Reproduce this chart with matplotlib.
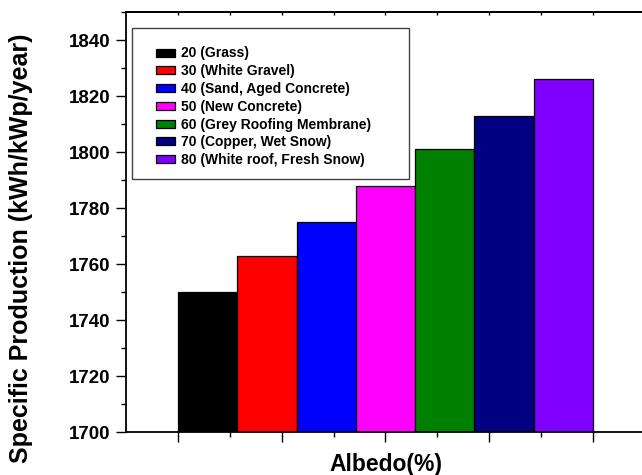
import matplotlib
matplotlib.use("Agg")
import matplotlib.pyplot as plt
from matplotlib.patches import Rectangle
from matplotlib.ticker import FixedLocator, MultipleLocator

plt.rcParams['font.family'] = ['Liberation Sans', 'DejaVu Sans']
plt.rcParams['font.weight'] = 'bold'

# albedo categories and the specific production
labels = ["20 (Grass)", "30 (White Gravel)", "40 (Sand, Aged Concrete)",
          "50 (New Concrete)", "60 (Grey Roofing Membrane)",
          "70 (Copper, Wet Snow)", "80 (White roof, Fresh Snow)"]
production = [1750, 1763, 1775, 1788, 1801, 1813, 1826]
colors = ["#000000", "#FF0000", "#0000FF", "#FF00FF", "#008000", "#000080", "#8000FF"]

W, H = 642, 475
fig = plt.figure(figsize=(W / 100, H / 100), dpi=100)
ax = fig.add_axes([126 / W, 1 - 432.3 / H, 519 / W, 420.3 / H])

positions = list(range(1, len(production) + 1))
for pos, val, col, lab in zip(positions, production, colors, labels):
    ax.bar(pos, val - 1700, bottom=1700, width=1.0, color=col,
           edgecolor="black", linewidth=0.9, label=lab)

ax.set_xlim(-0.377, 8.377)
ax.set_ylim(1700, 1850)

# ticks like the Origin export: no x labels, majors at the bar group edges
major_x = [0.5, 2.25, 4.0, 5.75, 7.5]
minor_x = [1.375, 3.125, 4.875, 6.625]
ax.xaxis.set_major_locator(FixedLocator(major_x))
ax.xaxis.set_minor_locator(FixedLocator(minor_x))
ax.yaxis.set_major_locator(MultipleLocator(20))
ax.yaxis.set_minor_locator(MultipleLocator(10))
ax.set_xticklabels([])
ax.tick_params(axis="both", which="major", direction="out", length=7, width=1.0,
               labelsize=13.5, pad=4)
ax.tick_params(axis="both", which="minor", direction="out", length=3.5, width=1.0)
for lab in ax.get_yticklabels():
    lab.set_fontweight("bold")

# small inward ticks on the top edge
top = ax.secondary_xaxis("top")
top.xaxis.set_major_locator(FixedLocator(major_x))
top.xaxis.set_minor_locator(FixedLocator(minor_x))
top.tick_params(which="both", direction="in", length=2, width=1.0, labeltop=False)
top.spines["top"].set_linewidth(1.3)

for sp in ax.spines.values():
    sp.set_linewidth(1.3)

ax.set_ylabel("Specific Production (kWh/kWp/year)", fontsize=18, fontweight="bold")
ax.yaxis.set_label_coords(-0.179, 0.4385)
ax.set_xlabel("Albedo(%)", fontsize=16.5, fontweight="bold")
ax.xaxis.set_label_coords(0.5, -0.049)

# legend box drawn separately so the padding matches the original
fig.patches.append(Rectangle((132 / W, 1 - 179 / H), 277 / W, 151 / H,
                             transform=fig.transFigure, facecolor="white",
                             edgecolor="#444444", linewidth=1.0, zorder=3))
leg = fig.legend(loc="upper left", bbox_to_anchor=(156 / W, 1 - 46.5 / H),
                 borderaxespad=0, borderpad=0, frameon=False,
                 prop={"size": 10, "weight": "bold"}, handlelength=1.4, handleheight=0.5,
                 handletextpad=0.4, labelspacing=0.27)
leg.set_zorder(4)

fig.savefig("out.png", dpi=100)
